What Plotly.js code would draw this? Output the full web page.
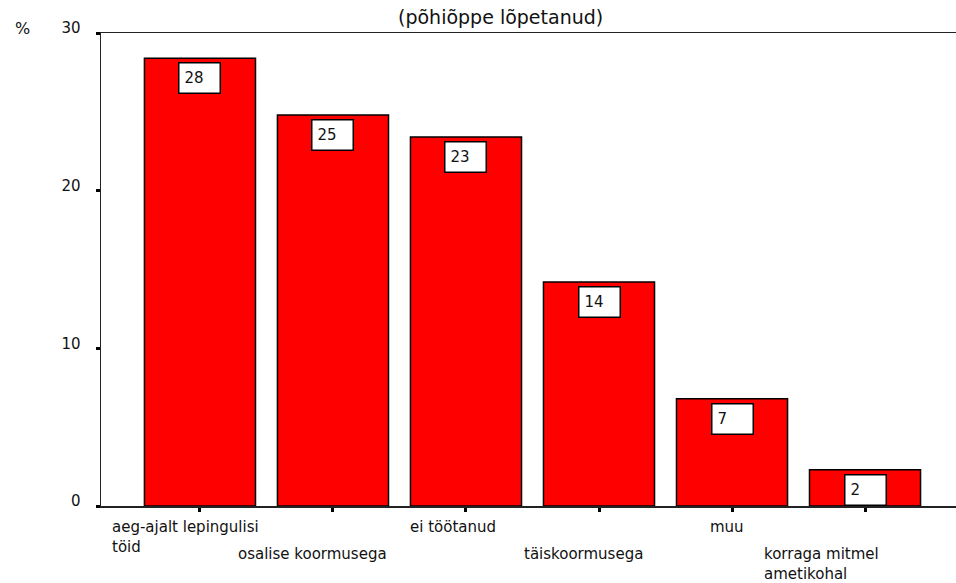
<!DOCTYPE html>
<html>
<head>
<meta charset="utf-8">
<script src="https://cdn.plot.ly/plotly-3.0.1.min.js"></script>
<style>html,body{margin:0;padding:0;background:#fff;}#chart{width:956px;height:583px;}</style>
</head>
<body>
<div id="chart"></div>
<script>
// Data
const categories = ["aeg-ajalt lepingulisi<br>töid", "osalise koormusega", "ei töötanud", "täiskoormusega", "muu", "korraga mitmel<br>ametikohal"];
const values = [28.4, 24.8, 23.4, 14.2, 6.8, 2.3];
const valueLabels = ["28", "25", "23", "14", "7", "2"];
const yTickVals = [0, 10, 20, 30];
const titleText = "(põhiõppe lõpetanud)";

const FONT = "DejaVu Sans, sans-serif";
const idx = categories.map((_, i) => i);

// style offsets for staggered category labels (pixels)
const labelXShift = [-90, -97, -58, -77, -24, -103];

const annotations = [];
idx.forEach(i => {
  annotations.push({
    x: i, y: values[i], xref: 'x', yref: 'y',
    text: valueLabels[i], showarrow: false,
    xanchor: 'center', yanchor: 'top', yshift: -4,
    width: 30, height: 19, align: 'left', valign: 'top',
    bgcolor: '#ffffff', bordercolor: '#000000', borderwidth: 1.5, borderpad: 5,
    font: {family: FONT, size: 15, color: '#111'}
  });
  annotations.push({
    x: i, y: 0, xref: 'x', yref: 'paper',
    text: categories[i], showarrow: false,
    xanchor: 'left', yanchor: 'top', align: 'left',
    xshift: labelXShift[i], yshift: (i % 2 === 0) ? -10 : -37,
    font: {family: FONT, size: 15, color: '#111'}
  });
});
annotations.push({
  x: 0, y: 1, xref: 'paper', yref: 'paper', text: '%', showarrow: false,
  xanchor: 'center', yanchor: 'middle', xshift: -79, yshift: 5,
  font: {family: FONT, size: 16, color: '#111'}
});
// title (kept fully inside the page)
annotations.push({
  x: 0.524, y: 1, xref: 'paper', yref: 'paper', text: titleText, showarrow: false,
  xanchor: 'center', yanchor: 'bottom', yshift: 3,
  font: {family: FONT, size: 19, color: '#111'}
});
annotations[annotations.length - 1].xref = 'paper';
// convert container x (0.524 of 956 px) to paper fraction
annotations[annotations.length - 1].x = (0.524 * 956 - 101) / (956 - 101);

const trace = {
  type: 'bar', x: idx, y: values,
  marker: {color: '#ff0000', line: {color: '#000000', width: 1.5}},
  hoverinfo: 'skip'
};

const layout = {
  width: 956, height: 583,
  margin: {l: 101, r: 0, t: 33, b: 77},
  paper_bgcolor: '#ffffff', plot_bgcolor: '#ffffff',
  bargap: 0.165,
  showlegend: false,
  xaxis: {
    range: [-0.744, 5.684], tickvals: idx, showticklabels: false,
    ticks: 'outside', ticklen: 4, tickwidth: 3, tickcolor: '#000',
    showline: true, linecolor: '#222', linewidth: 1.5, mirror: true,
    showgrid: false, zeroline: false, fixedrange: true
  },
  yaxis: {
    range: [0, 30], tickvals: yTickVals, ticktext: yTickVals.map(String),
    ticks: 'outside', ticklen: 4, tickwidth: 3, tickcolor: '#000',
    ticklabelstandoff: 12, ticklabelshift: -5,
    showline: true, linecolor: '#222', linewidth: 1.5,
    showgrid: false, zeroline: false, fixedrange: true,
    tickfont: {family: FONT, size: 15, color: '#111'}
  },
  annotations: annotations
};

Plotly.newPlot('chart', [trace], layout, {staticPlot: true, displayModeBar: false});
</script>
</body>
</html>
